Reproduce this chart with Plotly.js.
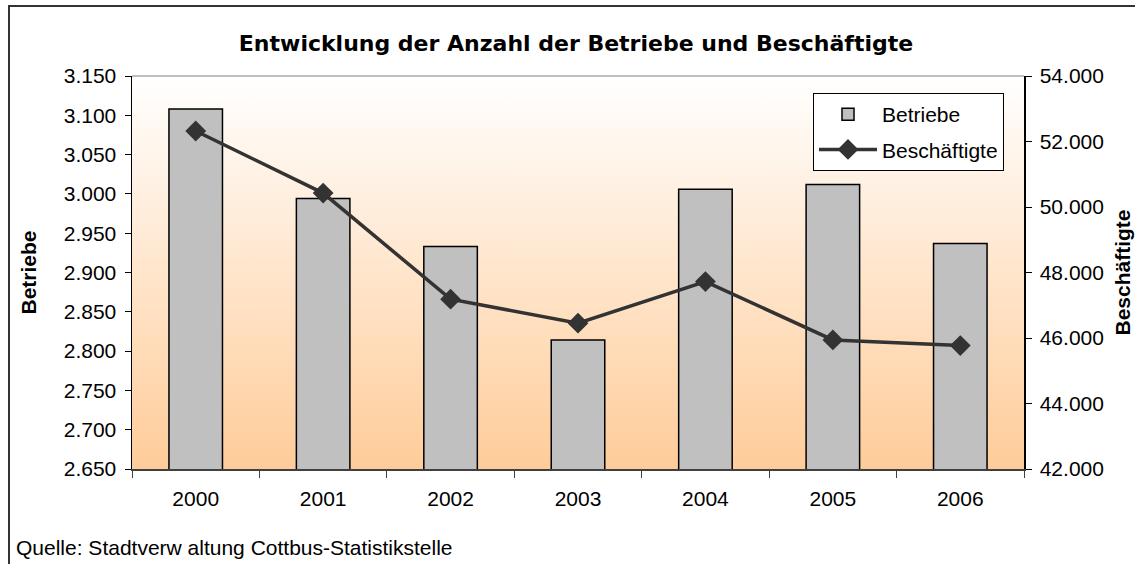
<!DOCTYPE html>
<html>
<head>
<meta charset="utf-8">
<script src="https://cdn.plot.ly/plotly-3.0.1.min.js"></script>
<style>
html,body{margin:0;padding:0;background:#ffffff;}
#chart{width:1135px;height:564px;}
</style>
</head>
<body>
<div id="chart"></div>
<script>
// Data
const years = ["2000","2001","2002","2003","2004","2005","2006"];
const betriebe = [3108, 2994, 2933, 2814, 3006, 3012, 2937];
const beschaeftigte = [52320, 50425, 47186, 46452, 47723, 45942, 45768];

const chartTitle = "Entwicklung der Anzahl der Betriebe und Beschäftigte";
const leftTitle = "Betriebe";
const rightTitle = "Beschäftigte";
const sourceText = "Quelle: Stadtverw altung Cottbus-Statistikstelle";

const W = 1135, H = 564;
const M = {l:132, r:111, t:76, b:95};
const PW = W - M.l - M.r, PH = H - M.t - M.b;
const px2x = p => (p - M.l) / PW;
const py2y = p => (H - M.b - p) / PH;

const gradSvg = '<svg xmlns="http://www.w3.org/2000/svg" width="100" height="100" preserveAspectRatio="none" viewBox="0 0 100 100">' +
  '<defs><linearGradient id="g" x1="0" y1="0" x2="0" y2="1">' +
  '<stop offset="0" stop-color="#FFFFFF"/><stop offset="1" stop-color="#FFCC99"/>' +
  '</linearGradient></defs><rect width="100" height="100" fill="url(#g)"/></svg>';
const gradUri = 'data:image/svg+xml;charset=utf-8,' + encodeURIComponent(gradSvg);

const font = "Liberation Sans, Arial, sans-serif";

const traces = [
  {
    type: "bar",
    x: years,
    y: betriebe,
    name: "Betriebe",
    legendgroup: "a",
    marker: {color: "#C0C0C0", line: {color: "#000000", width: 1.5}},
    yaxis: "y",
    hoverinfo: "x+y"
  },
  {
    type: "scatter",
    mode: "lines+markers",
    x: years,
    y: beschaeftigte,
    name: "Beschäftigte",
    legendgroup: "b",
    line: {color: "#333333", width: 3.5},
    marker: {symbol: "diamond", size: 16, color: "#333333"},
    yaxis: "y2"
  }
];

const layout = {
  width: W, height: H,
  margin: {l:M.l, r:M.r, t:M.t, b:M.b, pad:0},
  paper_bgcolor: "#ffffff",
  plot_bgcolor: "rgba(0,0,0,0)",
  separators: ",.",
  font: {family: font, size: 20, color: "#000000"},
  title: {
    text: chartTitle,
    font: {family: "DejaVu Sans, sans-serif", size: 22, weight: "bold", color: "#000000"},
    xref: "container", yref: "container",
    x: 576 / W, y: 1 - 43 / H, xanchor: "center", yanchor: "middle"
  },
  bargap: 0.58,
  showlegend: true,
  legend: {
    x: px2x(813), y: py2y(93), xanchor: "left", yanchor: "top",
    bgcolor: "#ffffff", bordercolor: "#000000", borderwidth: 1,
    font: {family: font, size: 21, color: "#000000"},
    traceorder: "grouped", tracegroupgap: 5,
    itemwidth: 58
  },
  xaxis: {
    type: "category",
    showgrid: false,
    showline: true, linecolor: "#404040", linewidth: 1.5,
    ticks: "outside", tickson: "boundaries", ticklen: 7, tickcolor: "#404040", tickwidth: 1,
    ticklabelstandoff: 10,
    tickfont: {family: font, size: 21, color: "#000000"},
    zeroline: false, fixedrange: true
  },
  yaxis: {
    range: [2650, 3150], dtick: 50, tick0: 2650,
    tickformat: ",.0f",
    showgrid: false, zeroline: false,
    showline: true, linecolor: "#000000", linewidth: 1.5,
    ticks: "outside", ticklen: 6, tickcolor: "#000000", tickwidth: 1,
    ticklabelstandoff: 4,
    tickfont: {family: font, size: 21, color: "#000000"},
    title: {text: leftTitle, font: {family: font, size: 21, weight: "bold", color: "#000000"}, standoff: 21},
    fixedrange: true
  },
  yaxis2: {
    overlaying: "y", side: "right",
    range: [42000, 54000], dtick: 2000, tick0: 42000,
    tickformat: ",.0f",
    showgrid: false, zeroline: false,
    showline: true, linecolor: "#000000", linewidth: 1.5,
    ticks: "outside", ticklen: 6, tickcolor: "#000000", tickwidth: 1,
    ticklabelstandoff: 4,
    tickfont: {family: font, size: 21, color: "#000000"},
    title: {text: rightTitle, font: {family: font, size: 21, weight: "bold", color: "#000000"}, standoff: 12},
    fixedrange: true
  },
  images: [{
    source: gradUri, xref: "paper", yref: "paper",
    x: 0, y: 1, sizex: 1, sizey: 1, xanchor: "left", yanchor: "top",
    sizing: "stretch", layer: "below"
  }],
  shapes: [
    {type: "line", xref: "paper", yref: "paper", x0: 0, x1: 1, y0: 1, y1: 1,
     line: {color: "#808080", width: 1}},
    {type: "rect", xref: "paper", yref: "paper",
     x0: px2x(9), x1: px2x(1145), y0: py2y(6), y1: py2y(580),
     line: {color: "#333333", width: 2}, fillcolor: "rgba(0,0,0,0)"}
  ],
  annotations: [{
    text: sourceText, xref: "paper", yref: "paper",
    x: px2x(14), y: py2y(547), xanchor: "left", yanchor: "middle",
    showarrow: false, font: {family: font, size: 21, color: "#000000"}
  }]
};

Plotly.newPlot("chart", traces, layout, {displayModeBar: false, staticPlot: true});
</script>
</body>
</html>
